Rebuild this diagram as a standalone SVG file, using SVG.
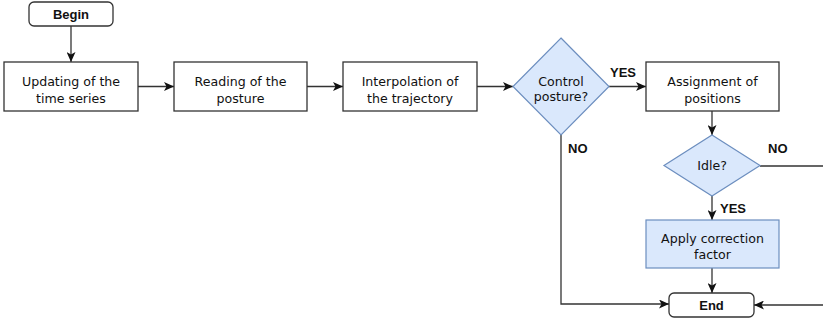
<svg xmlns="http://www.w3.org/2000/svg" width="823" height="320" viewBox="0 0 823 320">
<style>
.box{fill:#fff;stroke:#333;stroke-width:1.3}
.blue{fill:#dae8fc;stroke:#6c8ebf;stroke-width:1.2}
.t{font-family:"DejaVu Sans",sans-serif;font-size:12.6px;fill:#111;text-anchor:middle}
.b{font-family:"Liberation Sans",Arial,sans-serif;font-size:13px;font-weight:bold;fill:#111}
.c{fill:none;stroke:#333;stroke-width:1.3}
</style>
<defs>
<marker id="ah" markerUnits="userSpaceOnUse" markerWidth="11" markerHeight="9" refX="10" refY="4.5" orient="auto">
<path d="M0,0 L10,4.5 L0,9 L2.5,4.5 z" fill="#111"/>
</marker>
</defs>
<g id="connectors">
<path class="c" d="M71,26 V62" marker-end="url(#ah)"/>
<path class="c" d="M138,86.5 H174" marker-end="url(#ah)"/>
<path class="c" d="M307,86.5 H343" marker-end="url(#ah)"/>
<path class="c" d="M477,86.5 H513" marker-end="url(#ah)"/>
<path class="c" d="M609,86.5 H646" marker-end="url(#ah)"/>
<path class="c" d="M712,111 V135" marker-end="url(#ah)"/>
<path class="c" d="M712,196 V220" marker-end="url(#ah)"/>
<path class="c" d="M712,268 V293" marker-end="url(#ah)"/>
<path class="c" d="M561,135 V304 H669" marker-end="url(#ah)"/>
<path class="c" d="M760,166 H830 V305 H754" marker-end="url(#ah)"/>
<text class="b" x="610" y="77">YES</text>
<text class="b" x="568" y="153">NO</text>
<text class="b" x="768" y="153">NO</text>
<text class="b" x="720" y="213">YES</text>
</g>
<g id="begin">
<rect class="box" x="29" y="2" width="84" height="24" rx="5"/>
<text class="b" x="71" y="19" text-anchor="middle">Begin</text>
</g>
<g id="updating">
<rect class="box" x="4" y="62" width="134" height="49"/>
<text class="t" x="71" y="86">Updating of the</text>
<text class="t" x="71" y="103">time series</text>
</g>
<g id="reading">
<rect class="box" x="174" y="62" width="133" height="49"/>
<text class="t" x="240.5" y="86">Reading of the</text>
<text class="t" x="240.5" y="103">posture</text>
</g>
<g id="interpolation">
<rect class="box" x="343" y="62" width="134" height="49"/>
<text class="t" x="410" y="86">Interpolation of</text>
<text class="t" x="410" y="103">the trajectory</text>
</g>
<g id="control">
<path class="blue" d="M561,38 L609,86.5 L561,135 L513,86.5 Z"/>
<text class="t" x="561" y="86">Control</text>
<text class="t" x="561" y="101">posture?</text>
</g>
<g id="assignment">
<rect class="box" x="646" y="62" width="133" height="49"/>
<text class="t" x="712.5" y="86">Assignment of</text>
<text class="t" x="712.5" y="103">positions</text>
</g>
<g id="idle">
<path class="blue" d="M712,135 L760,165.5 L712,196 L664,165.5 Z"/>
<text class="t" x="712" y="170">Idle?</text>
</g>
<g id="apply">
<rect class="blue" x="646" y="220" width="133" height="48"/>
<text class="t" x="712.5" y="243">Apply correction</text>
<text class="t" x="712.5" y="259">factor</text>
</g>
<g id="end">
<rect class="box" x="669" y="293" width="85" height="24" rx="5"/>
<text class="b" x="711.5" y="310" text-anchor="middle">End</text>
</g>
</svg>
